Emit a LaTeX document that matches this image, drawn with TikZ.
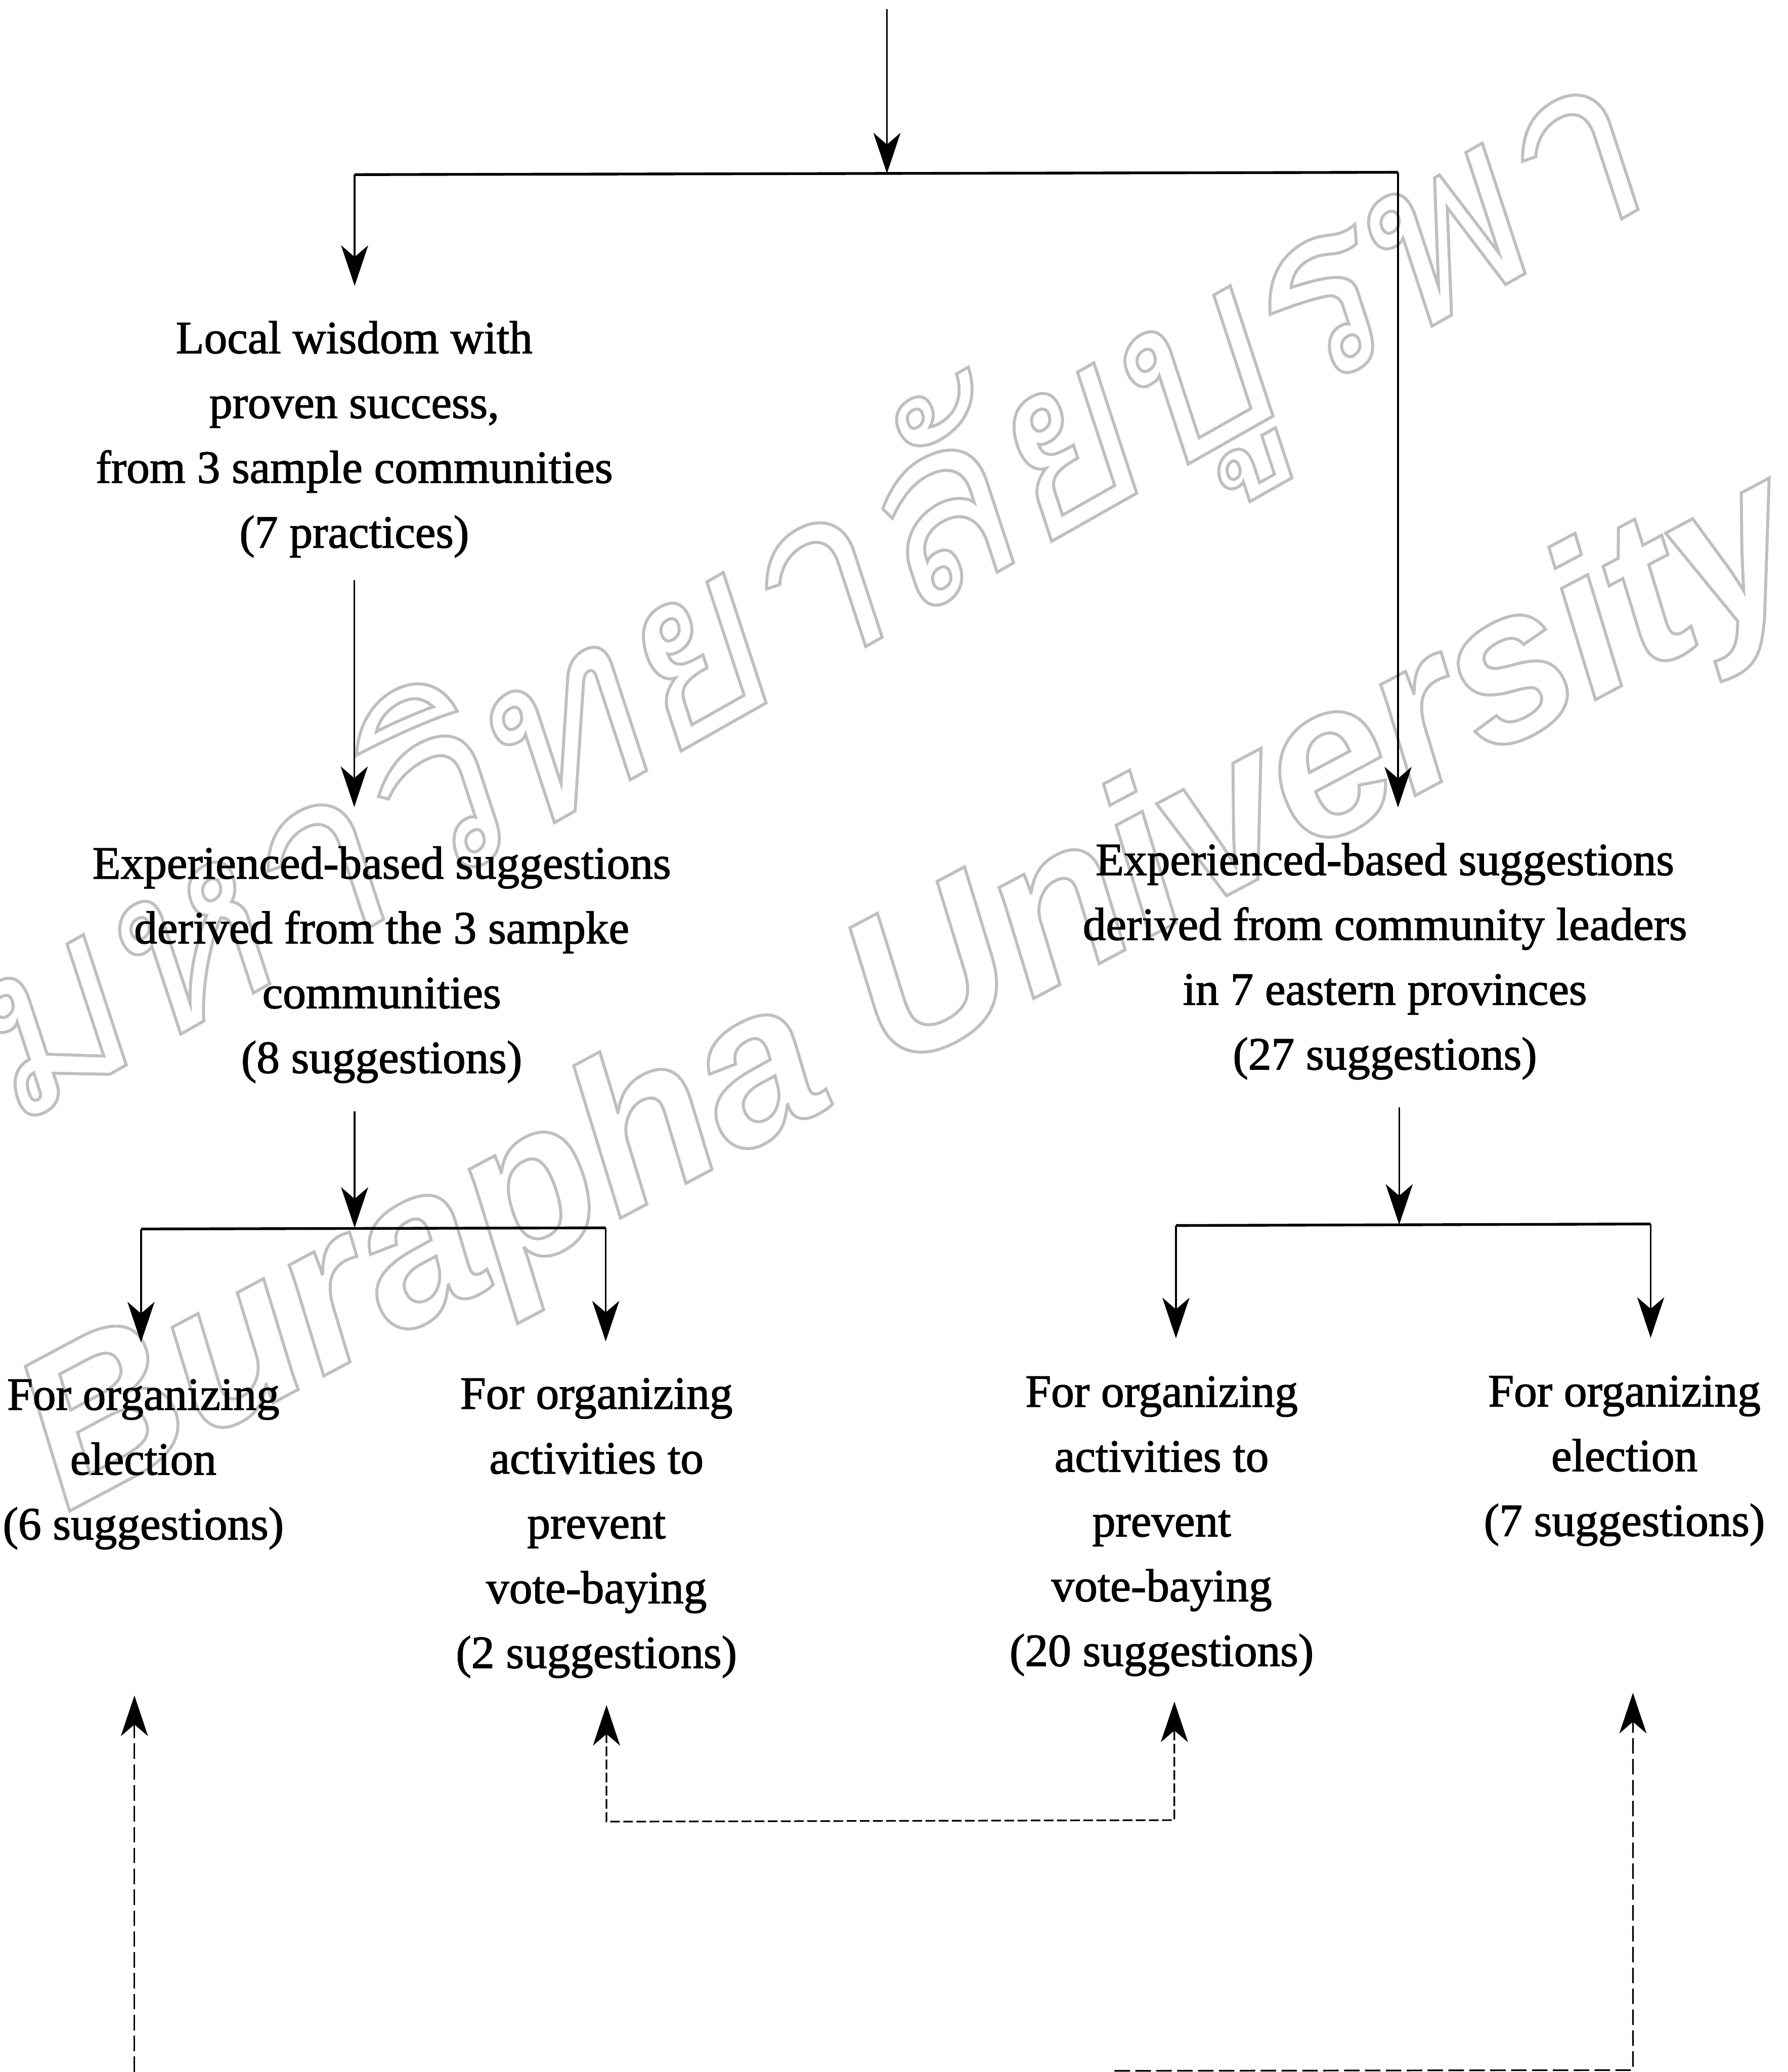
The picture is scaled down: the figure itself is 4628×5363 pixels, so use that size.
\documentclass[tikz,border=0pt]{standalone}
\usepackage{fontspec}
\setmainfont{Liberation Serif}
\newfontfamily\nodefont[FakeBold=1.6]{Liberation Serif}
\newfontfamily\wmthai[Script=Thai,FakeSlant=0.2]{Loma}
\newfontfamily\wmlat{Liberation Sans}
\usetikzlibrary{arrows.meta}
\newcommand\outl[1]{\special{pdf:literal direct 1 Tr 2.2 w}#1\special{pdf:literal direct 0 Tr}}
\begin{document}
\begin{tikzpicture}[x=0.01cm,y=-0.01cm,
  txt/.style={align=center, inner sep=0pt, outer sep=0pt, font=\nodefont\fontsize{34pt}{47.7pt}\selectfont},
  ln/.style={line width=1.3pt},
  hln/.style={line width=2pt},
  tip/.style={-{Stealth[length=1.05cm,width=0.7cm,inset=0.3cm]}},
  arr/.style={ln, tip},
  darr/.style={line width=1.2pt, dash pattern=on 0.4cm off 0.14cm, tip},
  dboth/.style={line width=1.2pt, dash pattern=on 0.25cm off 0.09cm,
    {Stealth[length=1.05cm,width=0.7cm,inset=0.3cm]}-{Stealth[length=1.05cm,width=0.7cm,inset=0.3cm]}},
  wm/.style={text=gray!50, inner sep=0pt}
]
\fill[white] (0,0) rectangle (4628,5363);
\useasboundingbox (0,0) rectangle (4628,5363);

% watermark
\node[wm, rotate=29.5, anchor=base west, font=\wmthai\fontsize{178pt}{178pt}\selectfont] (wmth) at (20,2930) {\outl{มหาวิทยาลัยบูรพา}};
\node[wm, rotate=28, anchor=base west, font=\wmlat\bfseries\itshape\fontsize{159pt}{159pt}\selectfont] (wmen) at (171,3916) {\outl{Burapha University}};

% nodes
\node[txt] (lw) at (917,1137) {Local wisdom with\\proven success,\\from 3 sample communities\\(7 practices)};
\node[txt] (ml) at (988,2497) {Experienced-based suggestions\\derived from the 3 sampke\\communities\\(8 suggestions)};
\node[txt] (mr) at (3585,2488) {Experienced-based suggestions\\derived from community leaders\\in 7 eastern provinces\\(27 suggestions)};
\node[txt] (na) at (371,3790) {For organizing\\election\\(6 suggestions)};
\node[txt] (nb) at (1544,3955) {For organizing\\activities to\\prevent\\vote-baying\\(2 suggestions)};
\node[txt] (nc) at (3007,3950) {For organizing\\activities to\\prevent\\vote-baying\\(20 suggestions)};
\node[txt] (nd) at (4205,3781) {For organizing\\election\\(7 suggestions)};

% coordinates
\coordinate (in) at (2296,24);
\coordinate (b1) at (2296,449);
\coordinate (b1L) at (918,452);
\coordinate (b1R) at (3619,446);
\coordinate (b2) at (918,3178);
\coordinate (b2L) at (365,3181);
\coordinate (b2R) at (1568,3178);
\coordinate (b3) at (3622,3170);
\coordinate (b3L) at (3044,3172);
\coordinate (b3R) at (4273,3168);
\coordinate (dl) at (348,5363);
\coordinate (dr) at (4227,5358);
\coordinate (drE) at (2885,5360);
\coordinate (m1) at (1570,4715);
\coordinate (m2) at (3040,4711);

% top bracket
\draw[arr] (in) -- (b1);
\draw[hln] (b1L) -- (b1R);
\draw[arr, shorten >=0.91cm] (b1L) -- (b1L |- lw.north);
\draw[arr, shorten >=0.92cm] (b1R) -- (b1R |- mr.north);
\draw[arr, shorten <=0.59cm, shorten >=1.02cm] (lw.south) -- (lw.south |- ml.north);

% left bracket
\draw[arr, shorten <=0.74cm] (b2 |- ml.south) -- (b2);
\draw[hln] (b2L) -- (b2R);
\draw[arr, shorten >=0.95cm] (b2L) -- (b2L |- na.north);
\draw[arr, shorten >=0.95cm] (b2R) -- (b2R |- nb.north);

% right bracket
\draw[arr, shorten <=0.72cm] (b3 |- mr.south) -- (b3);
\draw[hln] (b3L) -- (b3R);
\draw[arr, shorten >=0.98cm] (b3L) -- (b3L |- nc.north);
\draw[arr, shorten >=0.98cm] (b3R) -- (b3R |- nd.north);

% dashed links
\draw[darr, shorten >=3.78cm] (dl) -- (dl |- na.south);
\draw[darr, shorten >=3.80cm] (drE) -- (dr) -- (dr |- nd.south);
\draw[dboth, shorten <=0.70cm, shorten >=0.66cm] (m1 |- nb.south) -- (m1) -- (m2) -- (m2 |- nc.south);
\end{tikzpicture}
\end{document}
